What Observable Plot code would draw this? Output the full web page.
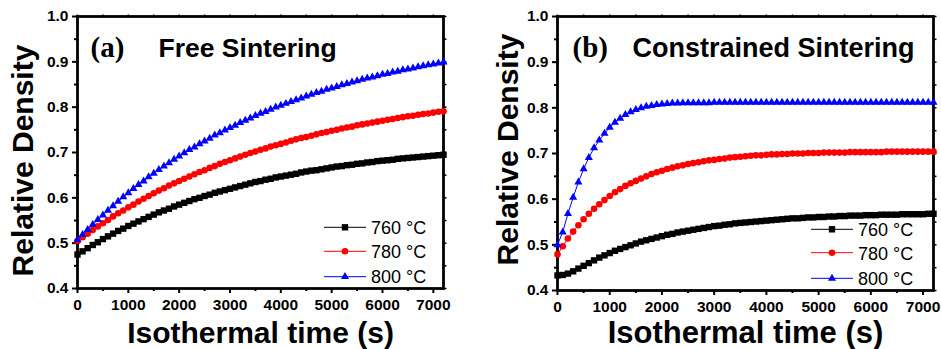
<!DOCTYPE html>
<html><head><meta charset="utf-8">
<script src="https://cdn.jsdelivr.net/npm/d3@7"></script>
<script src="https://cdn.jsdelivr.net/npm/@observablehq/plot@0.6"></script>
<style>
body{margin:0;background:#fff;}
#wrap{position:relative;width:941px;height:349px;overflow:hidden;background:#fff;}
#wrap > svg{position:absolute;top:0;}
</style></head><body><div id="wrap"></div>
<script>
// ---- data ----
const time = [0,100,200,300,400,500,600,700,800,900,1000,1100,1200,1300,1400,1500,1600,1700,1800,1900,2000,2100,2200,2300,2400,2500,2600,2700,2800,2900,3000,3100,3200,3300,3400,3500,3600,3700,3800,3900,4000,4100,4200,4300,4400,4500,4600,4700,4800,4900,5000,5100,5200,5300,5400,5500,5600,5700,5800,5900,6000,6100,6200,6300,6400,6500,6600,6700,6800,6900,7000,7100,7200];
const seriesNames = ["760 °C", "780 °C", "800 °C"];

// (a) Free sintering
const free760 = [0.475,0.482,0.489,0.496,0.502,0.509,0.515,0.521,0.527,0.532,
0.538,0.543,0.548,0.553,0.558,0.563,0.568,0.572,0.576,0.581,
0.585,0.589,0.593,0.597,0.600,0.604,0.607,0.611,0.614,0.617,
0.620,0.623,0.626,0.629,0.632,0.635,0.637,0.640,0.642,0.645,
0.647,0.649,0.651,0.653,0.656,0.658,0.660,0.661,0.663,0.665,
0.667,0.669,0.670,0.672,0.673,0.675,0.676,0.678,0.679,0.681,
0.682,0.683,0.684,0.686,0.687,0.688,0.689,0.690,0.691,0.692,
0.693,0.694,0.695];
const free780 = [0.505,0.513,0.521,0.529,0.537,0.544,0.551,0.559,0.566,0.572,
0.579,0.585,0.592,0.598,0.604,0.610,0.616,0.621,0.627,0.632,
0.637,0.642,0.647,0.652,0.657,0.661,0.666,0.670,0.675,0.679,
0.683,0.687,0.691,0.695,0.699,0.702,0.706,0.709,0.713,0.716,
0.719,0.722,0.726,0.729,0.732,0.734,0.737,0.740,0.743,0.745,
0.748,0.750,0.753,0.755,0.757,0.760,0.762,0.764,0.766,0.768,
0.770,0.772,0.774,0.776,0.778,0.780,0.781,0.783,0.785,0.786,
0.788,0.790,0.791];
const free800 = [0.507,0.519,0.530,0.541,0.552,0.562,0.572,0.582,0.592,0.602,
0.611,0.620,0.629,0.637,0.646,0.654,0.662,0.670,0.677,0.685,
0.692,0.699,0.706,0.712,0.719,0.725,0.731,0.738,0.743,0.749,
0.755,0.760,0.766,0.771,0.776,0.781,0.786,0.790,0.795,0.800,
0.804,0.808,0.812,0.816,0.820,0.824,0.828,0.832,0.835,0.839,
0.842,0.845,0.849,0.852,0.855,0.858,0.861,0.864,0.866,0.869,
0.872,0.874,0.877,0.879,0.882,0.884,0.886,0.889,0.891,0.893,
0.895,0.897,0.899];

// (b) Constrained sintering
const con760 = [0.433,0.434,0.437,0.442,0.448,0.454,0.460,0.466,0.472,0.477,
0.482,0.487,0.491,0.495,0.499,0.503,0.507,0.510,0.513,0.516,
0.519,0.522,0.524,0.527,0.529,0.531,0.533,0.535,0.537,0.539,
0.541,0.542,0.544,0.545,0.547,0.548,0.549,0.550,0.551,0.552,
0.553,0.554,0.555,0.556,0.557,0.558,0.558,0.559,0.560,0.560,
0.561,0.561,0.562,0.562,0.563,0.563,0.564,0.564,0.564,0.565,
0.565,0.565,0.566,0.566,0.566,0.566,0.567,0.567,0.567,0.567,
0.567,0.568,0.568];
const con780 = [0.479,0.497,0.514,0.529,0.543,0.556,0.568,0.579,0.589,0.598,
0.607,0.615,0.622,0.629,0.635,0.640,0.645,0.650,0.655,0.659,
0.662,0.666,0.669,0.672,0.674,0.677,0.679,0.681,0.683,0.685,
0.686,0.688,0.689,0.691,0.692,0.693,0.694,0.695,0.696,0.696,
0.697,0.698,0.698,0.699,0.699,0.700,0.700,0.700,0.701,0.701,
0.701,0.702,0.702,0.702,0.702,0.702,0.703,0.703,0.703,0.703,
0.703,0.703,0.703,0.704,0.704,0.704,0.704,0.704,0.704,0.704,
0.704,0.704,0.704];
const con800 = [0.500,0.528,0.568,0.604,0.637,0.666,0.691,0.712,0.729,0.744,
0.757,0.768,0.777,0.785,0.791,0.796,0.800,0.803,0.805,0.807,
0.808,0.809,0.810,0.810,0.811,0.811,0.811,0.811,0.811,0.811,
0.812,0.812,0.812,0.812,0.812,0.812,0.812,0.812,0.812,0.812,
0.812,0.812,0.812,0.812,0.812,0.812,0.812,0.812,0.812,0.812,
0.812,0.812,0.812,0.812,0.812,0.812,0.812,0.812,0.812,0.812,
0.812,0.812,0.812,0.812,0.812,0.812,0.812,0.812,0.812,0.812,
0.812,0.812,0.812];

// tick labels
const xMajor = [0,1000,2000,3000,4000,5000,6000,7000];
const xMinor = [500,1500,2500,3500,4500,5500,6500];
const xAll = [0,500,1000,1500,2000,2500,3000,3500,4000,4500,5000,5500,6000,6500,7000];
const yMajor = [0.4,0.5,0.6,0.7,0.8,0.9,1.0];
const yMinor = [0.45,0.55,0.65,0.75,0.85,0.95];
const yAll = [0.4,0.45,0.5,0.55,0.6,0.65,0.7,0.75,0.8,0.85,0.9,0.95,1.0];

const xTitle = "Isothermal time (s)";
const yTitle = "Relative Density";

// ---- styles ----
const colors = ["#000000", "#ff0000", "#0000ff"];
const symbols = ["square", "circle", "triangle"];
const radii = [3.6, 3.3, 3.0];
const d3symbols = [d3.symbolSquare, d3.symbolCircle, d3.symbolTriangle];
const sans = "'Liberation Sans', Arial, Helvetica, sans-serif";
const serif = "'Liberation Serif', 'Times New Roman', serif";

const wrap = document.getElementById("wrap");

function panel(cfg) {
  const marks = [
    Plot.axisX({ticks: xMajor, tickSize: 5, tickPadding: 5, tickFormat: d => String(d), strokeWidth: 2, label: null, fontSize: 15.5}),
    Plot.axisX({ticks: xMinor, tickSize: 3, tickFormat: () => "", strokeWidth: 2, label: null}),
    Plot.axisX({anchor: "top", ticks: xAll, tickSize: 2.5, tickFormat: () => "", strokeWidth: 1.5, label: null}),
    Plot.axisY({ticks: yMajor, tickSize: 5, tickPadding: 4, tickFormat: d => d.toFixed(1), strokeWidth: 2, label: null, fontSize: 15.5}),
    Plot.axisY({ticks: yMinor, tickSize: 3, tickFormat: () => "", strokeWidth: 2, label: null}),
    Plot.axisY({anchor: "right", ticks: yAll, tickSize: 2.5, tickFormat: () => "", strokeWidth: 1.5, label: null}),
    Plot.frame({strokeWidth: 2.8, stroke: "#000"})
  ];
  cfg.series.forEach((vals, k) => {
    const rows = time.map((t, i) => ({t, v: vals[i]}));
    marks.push(Plot.line(rows, {x: "t", y: "v", stroke: colors[k], strokeWidth: 1}));
    marks.push(Plot.dot(rows, {x: "t", y: "v", symbol: symbols[k], fill: colors[k], stroke: "none", r: radii[k]}));
  });
  marks.push(
    Plot.text([cfg.tag], {text: d => d, frameAnchor: "top-left", textAnchor: "start", lineAnchor: "bottom", dx: cfg.tagDx, dy: 40, fontFamily: serif, fontWeight: "bold", fontSize: 29}),
    Plot.text([cfg.title], {text: d => d, frameAnchor: "top-left", textAnchor: "start", lineAnchor: "bottom", dx: cfg.titleDx, dy: 40, fontWeight: "bold", fontSize: cfg.titleSize}),
    Plot.text([xTitle], {text: d => d, frameAnchor: "bottom", textAnchor: "middle", lineAnchor: "bottom", dy: cfg.xTitleDy, fontWeight: "bold", fontSize: cfg.xTitleSize}),
    Plot.text([yTitle], {text: d => d, frameAnchor: "left", textAnchor: "middle", lineAnchor: "bottom", rotate: -90, dx: cfg.yTitleDx, dy: cfg.yTitleDy, fontWeight: "bold", fontSize: 30})
  );
  const svg = Plot.plot({
    width: cfg.width, height: 349,
    marginLeft: cfg.ml, marginRight: cfg.mr, marginTop: 16, marginBottom: cfg.mb,
    x: {domain: [0, 7200], axis: null, label: null},
    y: {domain: [0.4, 1.0], axis: null, label: null},
    style: {fontFamily: sans, fontWeight: "bold", fontSize: "16px", color: "#000", background: "transparent", overflow: "visible"},
    marks
  });
  svg.style.left = cfg.left + "px";
  wrap.appendChild(svg);
}

panel({left: 0, width: 470, ml: 77, mr: 27, mb: 61, series: [free760, free780, free800],
  tag: "(a)", tagDx: 13, title: "Free Sintering", titleDx: 81, titleSize: 26.5,
  xTitleDy: 54, xTitleSize: 30, yTitleDx: -45, yTitleDy: 8});
panel({left: 470, width: 471, ml: 87, mr: 8, mb: 59, series: [con760, con780, con800],
  tag: "(b)", tagDx: 15, title: "Constrained Sintering", titleDx: 75, titleSize: 27,
  xTitleDy: 52, xTitleSize: 31, yTitleDx: -40, yTitleDy: -4});

// ---- legends ----
const ov = d3.select(wrap).append("svg").attr("width", 941).attr("height", 349)
  .style("position", "absolute").style("left", "0px").style("top", "0px");
function legend(x1, x2, mx, tx, rowY, baseY) {
  seriesNames.forEach((name, k) => {
    ov.append("line").attr("x1", x1).attr("x2", x2).attr("y1", rowY[k]).attr("y2", rowY[k])
      .attr("stroke", colors[k]).attr("stroke-width", 1);
    ov.append("path").attr("d", d3.symbol(d3symbols[k], Math.PI * radii[k] * radii[k])())
      .attr("transform", `translate(${mx},${rowY[k]})`).attr("fill", colors[k]);
    ov.append("text").attr("x", tx).attr("y", baseY[k]).text(name)
      .attr("font-family", sans).attr("font-size", 18).attr("fill", "#000");
  });
}
legend(324, 366, 345, 371, [227.3, 251.3, 276.7], [234, 258.3, 283.3]);
legend(811, 853, 832, 858, [229.3, 252.7, 278.3], [236, 260, 285]);
</script></body></html>
